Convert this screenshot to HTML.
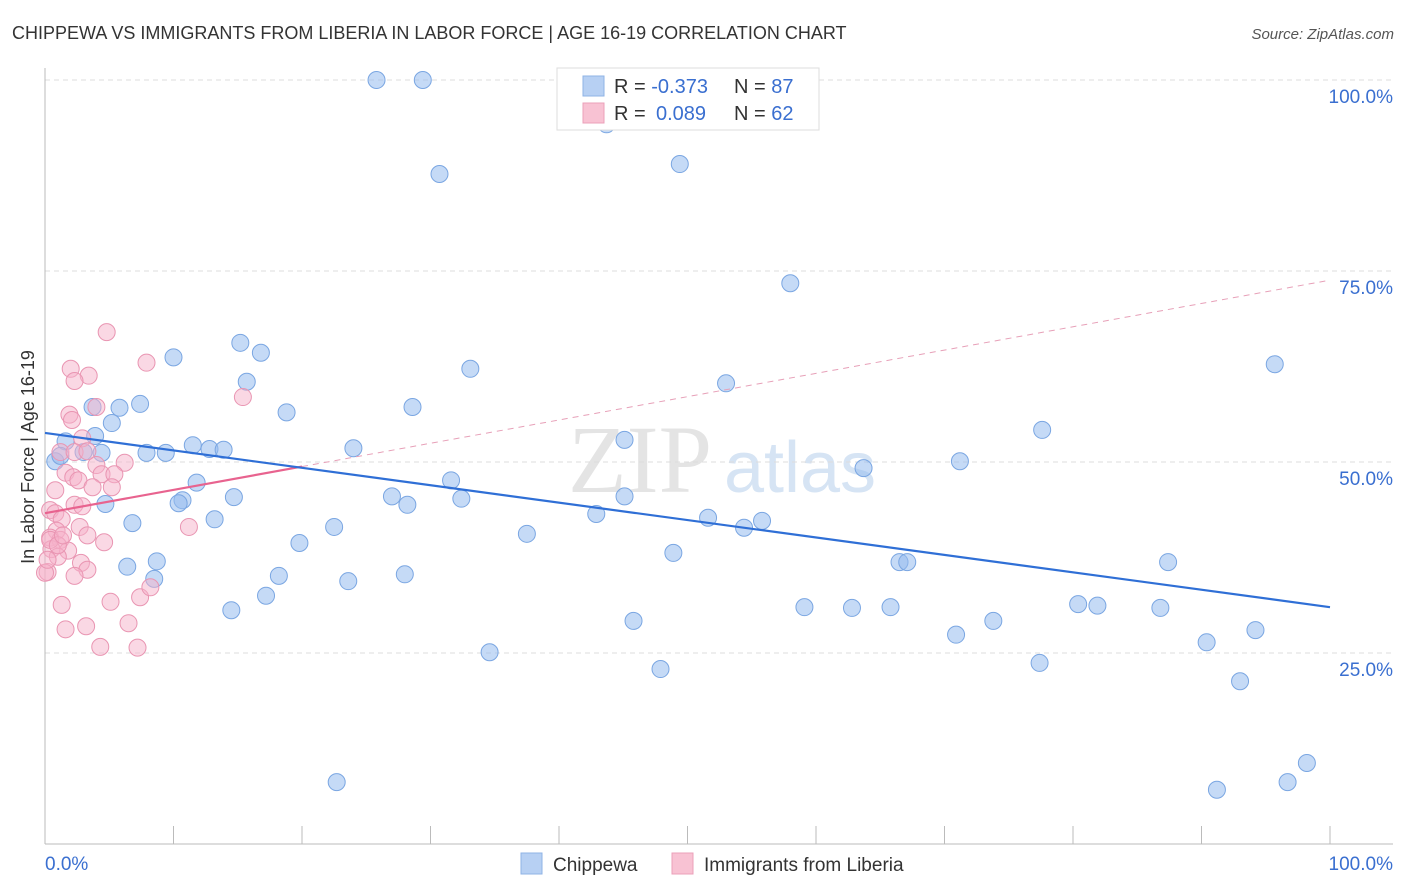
<!DOCTYPE html>
<html><head><meta charset="utf-8"><style>
body{margin:0;background:#fff;font-family:"Liberation Sans",sans-serif;}
svg{display:block}
</style></head><body>
<svg id="chart" width="1406" height="892" xmlns="http://www.w3.org/2000/svg">
<text x="12" y="39" font-size="18" fill="#333">CHIPPEWA VS IMMIGRANTS FROM LIBERIA IN LABOR FORCE | AGE 16-19 CORRELATION CHART</text>
<text x="1394" y="39" font-size="15" fill="#555" font-style="italic" text-anchor="end">Source: ZipAtlas.com</text>
<text x="640" y="492" font-size="96" fill="#e4e4e4" font-family="Liberation Serif,serif" text-anchor="middle">ZIP</text>
<text x="800" y="492" font-size="72" fill="#d6e4f4" text-anchor="middle">atlas</text>
<g id="grid"></g>
<g id="axes"></g>
<g id="marks"></g>
<text transform="translate(34,457) rotate(-90)" font-size="18" fill="#333" text-anchor="middle">In Labor Force | Age 16-19</text>
<g>
<rect x="557" y="68" width="262" height="62" fill="#fff" stroke="#ddd"/>
<rect x="583" y="76" width="21" height="20" fill="#b7d0f3" stroke="#8fb3e6"/>
<rect x="583" y="103" width="21" height="20" fill="#f8c2d3" stroke="#eba0b9"/>
<text x="614" y="93" font-size="20" fill="#333">R = <tspan fill="#3a6fd0">-0.373</tspan></text>
<text x="734" y="93" font-size="20" fill="#333">N = <tspan fill="#3a6fd0">87</tspan></text>
<text x="614" y="120" font-size="20" fill="#333">R = <tspan fill="#3a6fd0" x="656">0.089</tspan></text>
<text x="734" y="120" font-size="20" fill="#333">N = <tspan fill="#3a6fd0">62</tspan></text>
</g>
<g>
<rect x="521" y="853" width="21" height="21" fill="#b7d0f3" stroke="#8fb3e6"/>
<text x="553" y="871" font-size="19" fill="#333">Chippewa</text>
<rect x="672" y="853" width="21" height="21" fill="#f8c2d3" stroke="#eba0b9"/>
<text x="704" y="871" font-size="19" fill="#333">Immigrants from Liberia</text>
</g>
</svg>
<script>
const blueXpx=[377,423,606,440,680,790,1275,470,726,173,240,261,247,287,413,93,119,140,112,95,66,55,60,84,102,147,166,193,210,223,354,624,1042,960,864,197,182,179,234,392,407,461,451,624,105,215,133,334,527,596,708,744,762,673,299,157,127,279,154,348,405,266,231,900,907,1168,804,852,890,1078,1097,1160,633,956,993,1256,1206,489,661,1040,1240,1307,337,1217,1287];
const blueYpx=[80,80,124,174,164,283,364,369,383,357,343,353,382,412,407,407,408,404,423,436,441,461,456,452,453,453,453,445,449,450,448,440,430,461,468,483,500,503,497,496,505,499,480,496,504,519,523,527,534,514,518,528,521,553,543,561,567,576,579,581,574,596,610,562,562,562,607,608,607,604,606,608,621,635,621,630,642,652,669,663,681,763,782,790,782];
const pinkXpx=[107,147,71,89,75,243,96,70,72,82,60,75,87,125,96,66,73,101,115,78,93,55,112,74,82,50,55,62,80,189,56,88,50,60,104,52,68,58,81,88,75,48,62,110,140,151,65,86,129,100,137,45,50,58,47,63];
const pinkYpx=[332,363,369,376,381,397,407,415,420,438,452,452,451,463,465,473,477,474,474,480,487,490,487,505,506,510,513,519,527,527,531,535,538,540,542,549,551,557,563,570,576,572,605,602,597,587,629,626,623,647,648,573,540,545,560,535];
// data in percent
const blueX=blueXpx.map(p=>+((p-45)/12.85).toFixed(1));
const blueY=blueYpx.map(p=>+((844-p)/7.64).toFixed(1));
const pinkX=pinkXpx.map(p=>+((p-45)/12.85).toFixed(1));
const pinkY=pinkYpx.map(p=>+((844-p)/7.64).toFixed(1));
const blueTrend=[53.8,31.0];
const pinkTrend=[43.3,73.8];
const yTicks=[25,50,75,100];
const yTickLabels=["25.0%","50.0%","75.0%","100.0%"];
const xTicks=[0,10,20,30,40,50,60,70,80,90,100];

const NS="http://www.w3.org/2000/svg";
const X=v=>45+v*12.85, Y=v=>844-v*7.64;
function mk(parent,tag,attrs){const e=document.createElementNS(NS,tag);for(const k in attrs)e.setAttribute(k,attrs[k]);document.getElementById(parent).appendChild(e);return e;}
yTicks.forEach((t,i)=>{
 const l=mk('grid','line',{x1:45,x2:1393,y1:Y(t),y2:Y(t),stroke:'#ddd','stroke-dasharray':'5,4'});
 
 
 const tx=mk('axes','text',{x:1393,y:Y(t)+23,'font-size':19,fill:'#3a6fd0','text-anchor':'end'});
 tx.textContent=yTickLabels[i];
 
 
});
const ax=mk('axes','line',{x1:45,x2:45,y1:68,y2:844,stroke:'#bbb'});


const bx=mk('axes','line',{x1:45,x2:1393,y1:844,y2:844,stroke:'#bbb'});


xTicks.forEach(t=>{const l=mk('axes','line',{x1:X(t),x2:X(t),y1:826,y2:844,stroke:'#bbb'});
 
 });
const x0=mk('axes','text',{x:45,y:870,'font-size':19,fill:'#3a6fd0'});x0.textContent='0.0%';


const x1=mk('axes','text',{x:1393,y:870,'font-size':19,fill:'#3a6fd0','text-anchor':'end'});x1.textContent='100.0%';


blueX.forEach((v,i)=>{const c=mk('marks','circle',{cx:X(v),cy:Y(blueY[i]),r:8.5,fill:'rgba(150,188,238,0.55)',stroke:'#7aa6e2','stroke-width':1});
 
 });
pinkX.forEach((v,i)=>{const c=mk('marks','circle',{cx:X(v),cy:Y(pinkY[i]),r:8.5,fill:'rgba(246,178,202,0.5)',stroke:'#e995b2','stroke-width':1});
 
 });
const pd=mk('marks','line',{x1:X(20),y1:Y(pinkTrend[0]+(pinkTrend[1]-pinkTrend[0])*0.2),x2:X(100),y2:Y(pinkTrend[1]),stroke:'#e7a0b8','stroke-width':1,'stroke-dasharray':'6,5'});


const ps=mk('marks','line',{x1:X(0),y1:Y(pinkTrend[0]),x2:X(20),y2:Y(pinkTrend[0]+(pinkTrend[1]-pinkTrend[0])*0.2),stroke:'#e8638f','stroke-width':2.2});


const bl=mk('marks','line',{x1:X(0),y1:Y(blueTrend[0]),x2:X(100),y2:Y(blueTrend[1]),stroke:'#2f6fd6','stroke-width':2.2});


</script>
</body></html>
